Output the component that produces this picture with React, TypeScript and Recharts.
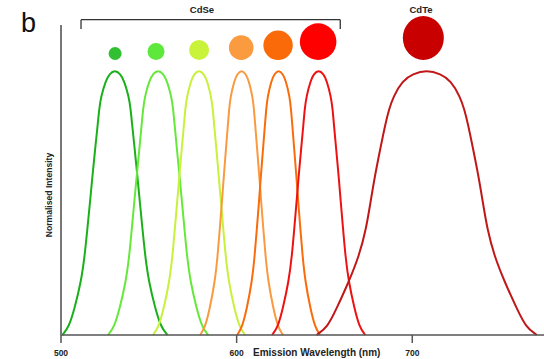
import { ComposedChart, Line, Scatter, XAxis, YAxis, ReferenceLine } from 'recharts';

// normalised intensity levels at which each emission curve was read (left foot -> peak -> right foot)
const intensityLevels = [0, 0.03, 0.1, 0.2, 0.3, 0.4, 0.5, 0.6, 0.7, 0.8, 0.85, 0.9, 0.96, 0.985, 1, 0.985, 0.96, 0.9, 0.85, 0.8, 0.7, 0.6, 0.5, 0.4, 0.3, 0.2, 0.1, 0.03, 0];

// wavelengths (nm) of each curve at those levels
const cdse530 = [500.8, 504.5, 507.7, 511.4, 513.5, 515.0, 516.5, 517.9, 519.4, 521.0, 521.7, 522.8, 525.5, 527.6, 530.7, 533.8, 535.9, 538.6, 539.7, 540.4, 542.0, 543.5, 544.9, 546.4, 547.9, 550.0, 553.7, 556.9, 560.6];
const cdse555 = [526.8, 530.3, 533.4, 536.9, 538.9, 540.3, 541.7, 543.1, 544.6, 546.0, 546.7, 547.7, 550.3, 552.3, 555.3, 558.3, 560.3, 562.9, 563.9, 564.6, 566.0, 567.5, 568.9, 570.3, 571.7, 573.7, 577.2, 580.3, 583.8];
const cdse579 = [552.4, 555.6, 558.5, 561.7, 563.5, 564.8, 566.1, 567.4, 568.7, 570.1, 570.7, 571.7, 574.0, 575.8, 578.6, 581.4, 583.2, 585.5, 586.5, 587.1, 588.5, 589.8, 591.1, 592.4, 593.7, 595.5, 598.7, 601.6, 604.8];
const cdse603 = [579.2, 582.1, 584.7, 587.6, 589.2, 590.4, 591.6, 592.7, 593.9, 595.1, 595.7, 596.5, 598.7, 600.3, 602.8, 605.3, 606.9, 609.1, 609.9, 610.5, 611.7, 612.9, 614.0, 615.2, 616.4, 618.0, 620.9, 623.5, 626.4];
const cdse624 = [600.3, 603.2, 605.8, 608.7, 610.3, 611.5, 612.7, 613.8, 615.0, 616.2, 616.8, 617.6, 619.8, 621.4, 623.9, 626.4, 628.0, 630.2, 631.0, 631.6, 632.8, 634.0, 635.1, 636.3, 637.5, 639.1, 642.0, 644.6, 647.5];
const cdse647 = [620.2, 623.5, 626.3, 629.6, 631.5, 632.8, 634.1, 635.3, 636.7, 638.1, 638.7, 639.7, 642.1, 643.9, 646.7, 649.5, 651.3, 653.7, 654.7, 655.3, 656.7, 658.1, 659.3, 660.6, 661.9, 663.8, 667.1, 669.9, 673.2];
const cdte708 = [645.5, 651.8, 656.9, 663.8, 669.8, 673.7, 676.2, 678.7, 681.7, 684.8, 686.7, 689.2, 694.5, 700.2, 708.2, 716.2, 721.9, 727.2, 729.7, 731.6, 734.7, 737.7, 740.2, 742.7, 746.6, 752.6, 759.5, 764.6, 770.9];

// quantum dot markers above each peak
const dotWavelengths = [530.8, 554.1, 578.6, 602.6, 623.6, 646.4, 706.3];
const dotLevel = 1.038;

const cdseRange = [511.4, 659];
const xTicks = [500, 600, 700];

const curves = [cdse530, cdse555, cdse579, cdse603, cdse624, cdse647, cdte708];
const lineColors = ['#19b019', '#66e83a', '#c8f03c', '#fa9a40', '#f96c0c', '#ee1111', '#c01818'];
const dotColors = ['#32c032', '#5fe83c', '#c9f23a', '#fb9b3f', '#fb6a08', '#ff0000', '#c80000'];
const dotRadii = [6.5, 8.5, 10, 12.3, 14.7, 18.3, 21];

const font = '"Liberation Sans", Arial, sans-serif';

const dotData = dotWavelengths.map((wl, i) => ({ wl, v: dotLevel, i }));

function QDot(props: any) {
  const { cx, cy, payload } = props;
  const r = dotRadii[payload.i];
  if (payload.i === 6) {
    return <ellipse cx={cx} cy={cy - 22} rx={20.5} ry={22} fill={dotColors[payload.i]} />;
  }
  return <circle cx={cx} cy={cy - r} r={r} fill={dotColors[payload.i]} />;
}

export default function App() {
  return (
    <div style={{ position: 'absolute', left: 0, top: 0, width: 544, height: 359, background: '#fff' }}>
      <ComposedChart width={544} height={359} margin={{ top: 25, right: 0, bottom: 0, left: 0 }}>
        <XAxis
          type="number"
          dataKey="wl"
          domain={[500, 775]}
          ticks={xTicks}
          allowDataOverflow
          height={24}
          stroke="#555"
          strokeWidth={1.5}
          tickSize={8}
          tickMargin={7}
          tickLine={{ stroke: '#555', strokeWidth: 1.5 }}
          tick={{ fontSize: 8.5, fontWeight: 700, fill: '#222', fontFamily: font }}
        />
        <YAxis
          type="number"
          domain={[0, 1.17]}
          width={61}
          tick={false}
          tickLine={false}
          axisLine={{ stroke: '#777', strokeWidth: 2 }}
        />
        {curves.map((wls, k) => (
          <Line
            key={k}
            data={wls.map((wl, j) => ({ wl, v: intensityLevels[j] }))}
            dataKey="v"
            type="basis"
            stroke={lineColors[k]}
            strokeWidth={2}
            dot={false}
            activeDot={false}
            isAnimationActive={false}
          />
        ))}
        <Scatter data={dotData} dataKey="v" shape={QDot} isAnimationActive={false} />
        <ReferenceLine segment={[{ x: cdseRange[0], y: 1.155 }, { x: cdseRange[0], y: 1.19 }]} stroke="#333" strokeWidth={1.3} ifOverflow="visible" />
        <ReferenceLine segment={[{ x: cdseRange[0], y: 1.19 }, { x: cdseRange[1], y: 1.19 }]} stroke="#333" strokeWidth={1.3} ifOverflow="visible" />
        <ReferenceLine segment={[{ x: cdseRange[1], y: 1.155 }, { x: cdseRange[1], y: 1.19 }]} stroke="#333" strokeWidth={1.3} ifOverflow="visible" />
      </ComposedChart>
      <svg width={544} height={359} style={{ position: 'absolute', left: 0, top: 0, pointerEvents: 'none' }}>
        <text x={21} y={31.5} fontSize={27} fontFamily={font} fill="#111">b</text>
        <text x={202} y={12.5} fontSize={9.5} fontWeight={700} fontFamily={font} fill="#222" textAnchor="middle">CdSe</text>
        <text x={421} y={12.5} fontSize={9.5} fontWeight={700} fontFamily={font} fill="#222" textAnchor="middle">CdTe</text>
        <text transform="translate(52,195) rotate(-90)" fontSize={8.6} fontWeight={700} fontFamily={font} fill="#222" textAnchor="middle">Normalised Intensity</text>
        <text x={253} y={355.5} fontSize={10} fontWeight={700} fontFamily={font} fill="#222">Emission Wavelength (nm)</text>
      </svg>
    </div>
  );
}
